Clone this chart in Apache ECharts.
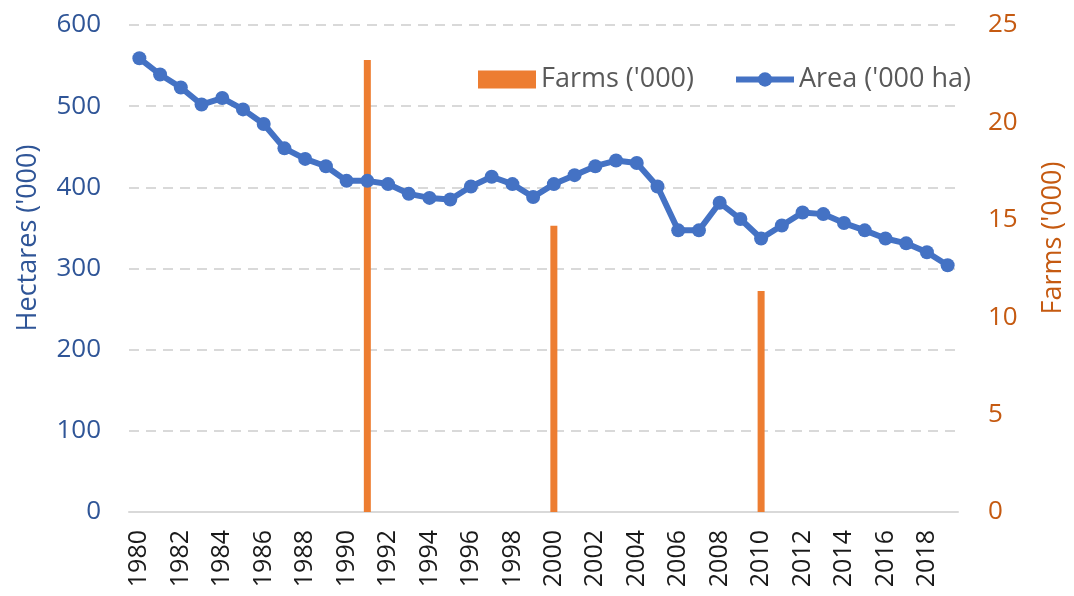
<!DOCTYPE html>
<html>
<head>
<meta charset="utf-8">
<script src="https://cdn.jsdelivr.net/npm/echarts@6/dist/echarts.min.js"></script>
<style>
html,body{margin:0;padding:0;background:#fff;}
#chart{width:1074px;height:596px;}
</style>
</head>
<body>
<div id="chart"></div>
<script>
const years = ['1980','1981','1982','1983','1984','1985','1986','1987','1988','1989',
  '1990','1991','1992','1993','1994','1995','1996','1997','1998','1999',
  '2000','2001','2002','2003','2004','2005','2006','2007','2008','2009',
  '2010','2011','2012','2013','2014','2015','2016','2017','2018','2019'];
const area = [559,539,523,502,510,496,478,448,435,426,
  408,408,404,392,387,385,401,413,404,388,
  404,415,426,433,430,401,347,347,381,361,
  337,353,369,367,356,347,337,331,320,304];
const farms = [null,null,null,null,null,null,null,null,null,null,
  null,23.2,null,null,null,null,null,null,null,null,
  14.7,null,null,null,null,null,null,null,null,null,
  11.35,null,null,null,null,null,null,null,null,null];
const leftTicks = [0,100,200,300,400,500,600];
const rightTicks = [0,5,10,15,20,25];

const FONT = "'Open Sans', 'Noto Sans', sans-serif";
const BLUE = '#4472C4';
const ORANGE = '#ED7D31';
const LBLUE = '#2F5597';
const LORANGE = '#C55A11';

const chart = echarts.init(document.getElementById('chart'), null, {renderer:'canvas'});
chart.setOption({
  animation: false,
  backgroundColor: '#fff',
  textStyle: {fontFamily: FONT},
  grid: {left: 129, right: 116, top: 25, bottom: 84, containLabel: false},
  legend: {
    left: 473, top: 61,
    itemWidth: 58, itemHeight: 18, itemGap: 39, itemTextGap: 7,
    textStyle: {fontFamily: FONT, fontSize: 27, color: '#595959'},
    data: [
      {name: "Farms ('000)", icon: 'rect'},
      {name: "Area ('000 ha)", lineStyle: {width: 6}}
    ]
  },
  xAxis: {
    type: 'category',
    data: years,
    boundaryGap: true,
    axisLine: {show: true, lineStyle: {color: '#d9d9d9', width: 2}},
    axisTick: {show: false},
    axisLabel: {interval: 1, rotate: 90, margin: 18, fontSize: 25, color: '#1a1a1a', fontFamily: FONT},
    splitLine: {show: false}
  },
  yAxis: [
    {
      type: 'value', min: leftTicks[0], max: leftTicks[leftTicks.length-1], interval: 100,
      axisLine: {show: false}, axisTick: {show: false},
      axisLabel: {fontSize: 26, color: LBLUE, margin: 28, fontFamily: FONT},
      splitLine: {show: true, lineStyle: {color: '#d9d9d9', width: 2, type: [10, 7]}}
    },
    {
      type: 'value', min: rightTicks[0], max: rightTicks[rightTicks.length-1], interval: 5,
      position: 'right',
      axisLine: {show: false}, axisTick: {show: false},
      axisLabel: {fontSize: 26, color: LORANGE, margin: 30, fontFamily: FONT},
      splitLine: {show: false}
    }
  ],
  graphic: [
    {type: 'text', x: 28, y: 238, rotation: Math.PI/2,
     style: {text: "Hectares ('000)", font: "27px " + FONT, fill: LBLUE, align: 'center', verticalAlign: 'middle'}},
    {type: 'text', x: 1053, y: 238, rotation: Math.PI/2,
     style: {text: "Farms ('000)", font: "27px " + FONT, fill: LORANGE, align: 'center', verticalAlign: 'middle'}}
  ],
  series: [
    {
      name: "Farms ('000)", type: 'bar', yAxisIndex: 1, data: farms,
      barWidth: 7, itemStyle: {color: ORANGE}
    },
    {
      name: "Area ('000 ha)", type: 'line', yAxisIndex: 0, data: area,
      symbol: 'circle', symbolSize: 14, showSymbol: true, showAllSymbol: true,
      lineStyle: {color: BLUE, width: 6}, itemStyle: {color: BLUE}
    }
  ]
});
</script>
</body>
</html>
